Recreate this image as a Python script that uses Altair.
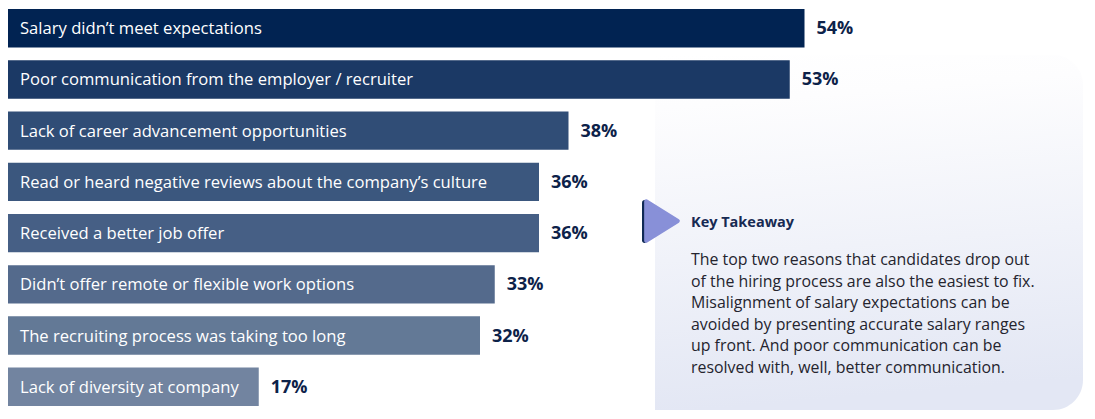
import altair as alt
import pandas as pd

reasons = [
    "Salary didn’t meet expectations",
    "Poor communication from the employer / recruiter",
    "Lack of career advancement opportunities",
    "Read or heard negative reviews about the company’s culture",
    "Received a better job offer",
    "Didn’t offer remote or flexible work options",
    "The recruiting process was taking too long",
    "Lack of diversity at company",
]
values = [54, 53, 38, 36, 36, 33, 32, 17]
bar_colors = ["#012352", "#1b3965", "#304d76", "#3b577e", "#465f85", "#546a8c", "#637996", "#7284a0"]

takeaway_title = "Key Takeaway"
takeaway_lines = [
    "The top two reasons that candidates drop out",
    "of the hiring process are also the easiest to fix.",
    "Misalignment of salary expectations can be",
    "avoided by presenting accurate salary ranges",
    "up front. And poor communication can be",
    "resolved with, well, better communication.",
]

FONT = "Open Sans"

df = pd.DataFrame({
    "reason": reasons,
    "value": values,
    "label": [f"{v}%" for v in values],
})
one = pd.DataFrame({"a": [0]})

x_scale = alt.Scale(domain=[0, 60], range=[8, 893])
y_scale = alt.Scale(domain=reasons, range=[9, 406], paddingInner=0.25, paddingOuter=0)

panel = alt.Chart(one).mark_rect(
    color={
        "gradient": "linear",
        "x1": 0, "y1": 0, "x2": 0.1, "y2": 1,
        "stops": [
            {"offset": 0, "color": "#ffffff"},
            {"offset": 0.15, "color": "#fdfdfe"},
            {"offset": 1, "color": "#e3e7f4"},
        ],
    },
    cornerRadiusTopRight=30,
    cornerRadiusBottomRight=30,
).encode(
    x=alt.value(655), x2=alt.value(1083), y=alt.value(55), y2=alt.value(410)
)

icon_bar = alt.Chart(one).mark_rect(color="#0f2a55", cornerRadius=3).encode(
    x=alt.value(642), x2=alt.value(647), y=alt.value(200), y2=alt.value(243)
)

icon_tri = alt.Chart(one).mark_point(
    shape="M-0.72,-0.9L0.72,0L-0.72,0.9Z",
    filled=True,
    color="#8890d8",
    opacity=1,
    size=1936,
    stroke="#8890d8",
    strokeWidth=4,
    strokeJoin="round",
).encode(x=alt.value(662), y=alt.value(221))

title_text = alt.Chart(one).mark_text(
    align="left", baseline="alphabetic", font=FONT, fontSize=14.5,
    fontWeight="bold", color="#172a52",
).encode(x=alt.value(691), y=alt.value(227), text=alt.value(takeaway_title))

body_text = alt.Chart(one).mark_text(
    align="left", baseline="alphabetic", font=FONT, fontSize=15.9,
    lineHeight=21.5, color="#24242e",
).encode(x=alt.value(691), y=alt.value(265), text=alt.value(takeaway_lines))

base = alt.Chart(df)

bars = base.mark_bar().encode(
    x=alt.X("value:Q", scale=x_scale, axis=None),
    y=alt.Y("reason:N", scale=y_scale, axis=None, sort=reasons),
    color=alt.Color("reason:N", scale=alt.Scale(domain=reasons, range=bar_colors), legend=None),
)

bar_labels = base.mark_text(
    align="left", baseline="middle", font=FONT, fontSize=16.6, color="#ffffff", dy=1,
).encode(
    x=alt.value(20),
    y=alt.Y("reason:N", scale=y_scale, axis=None, sort=reasons),
    text="reason:N",
)

value_labels = base.mark_text(
    align="left", baseline="middle", font=FONT, fontSize=18, fontWeight="bold",
    color="#0d2249", dx=12, dy=1,
).encode(
    x=alt.X("value:Q", scale=x_scale, axis=None),
    y=alt.Y("reason:N", scale=y_scale, axis=None, sort=reasons),
    text="label:N",
)

chart = alt.layer(
    panel, icon_bar, icon_tri, title_text, body_text, bars, bar_labels, value_labels
).properties(
    width=1095, height=419, padding=0,
    autosize=alt.AutoSizeParams(type="none"),
    background="#ffffff",
).configure_view(stroke=None)

chart.save("out.html", embed_options={"renderer": "svg", "actions": False})
